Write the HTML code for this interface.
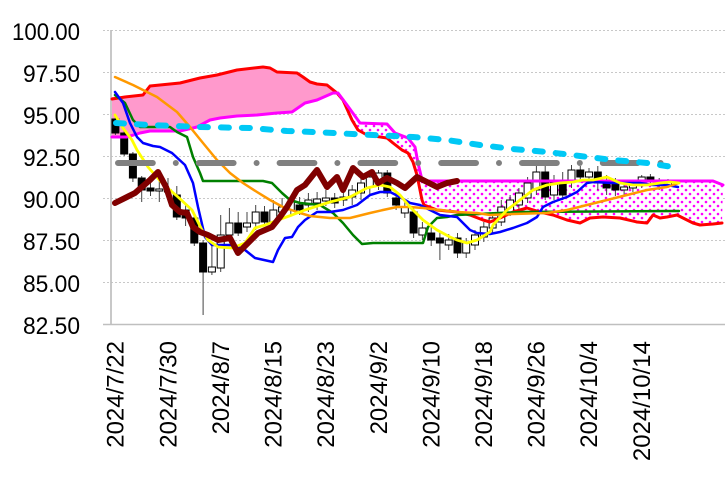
<!DOCTYPE html>
<html><head><meta charset="utf-8"><style>
html,body{margin:0;padding:0;background:#fff;}
svg{display:block;}
text{font-family:"Liberation Sans",Arial,sans-serif;fill:#000;}
</style></head><body>
<svg width="727" height="477" viewBox="0 0 727 477" xmlns="http://www.w3.org/2000/svg">
<defs>
<pattern id="dots" x="0" y="0" width="8" height="8" patternUnits="userSpaceOnUse">
<rect width="8" height="8" fill="#fff"/>
<circle cx="2" cy="2" r="1.3" fill="#FF00FF"/>
<circle cx="6" cy="6" r="1.3" fill="#FF00FF"/>
</pattern>
</defs>
<rect width="727" height="477" fill="#fff"/>
<g stroke="#C8C8C8" stroke-width="1" stroke-dasharray="2 2">
<line x1="103" y1="30.5" x2="725" y2="30.5"/>
<line x1="103" y1="72.5" x2="725" y2="72.5"/>
<line x1="103" y1="114.5" x2="725" y2="114.5"/>
<line x1="103" y1="156.5" x2="725" y2="156.5"/>
<line x1="103" y1="198.5" x2="725" y2="198.5"/>
<line x1="103" y1="240.5" x2="725" y2="240.5"/>
<line x1="103" y1="282.5" x2="725" y2="282.5"/>
</g>
<line x1="111" y1="30" x2="111" y2="325" stroke="#BFBFBF" stroke-width="1.7"/>
<line x1="103" y1="324.5" x2="725" y2="324.5" stroke="#BFBFBF" stroke-width="1.5"/>
<g font-size="24" text-anchor="end">
<text x="80" y="40" textLength="68" lengthAdjust="spacingAndGlyphs">100.00</text>
<text x="80" y="82" textLength="57" lengthAdjust="spacingAndGlyphs">97.50</text>
<text x="80" y="124" textLength="57" lengthAdjust="spacingAndGlyphs">95.00</text>
<text x="80" y="166" textLength="57" lengthAdjust="spacingAndGlyphs">92.50</text>
<text x="80" y="208" textLength="57" lengthAdjust="spacingAndGlyphs">90.00</text>
<text x="80" y="250" textLength="57" lengthAdjust="spacingAndGlyphs">87.50</text>
<text x="80" y="292" textLength="57" lengthAdjust="spacingAndGlyphs">85.00</text>
<text x="80" y="334" textLength="57" lengthAdjust="spacingAndGlyphs">82.50</text>
</g>
<g font-size="24" text-anchor="end">
<text transform="translate(123.5,341) rotate(-90)">2024/7/22</text>
<text transform="translate(176.3,341) rotate(-90)">2024/7/30</text>
<text transform="translate(228.9,341) rotate(-90)">2024/8/7</text>
<text transform="translate(281.5,341) rotate(-90)">2024/8/15</text>
<text transform="translate(334.1,341) rotate(-90)">2024/8/23</text>
<text transform="translate(386.8,341) rotate(-90)">2024/9/2</text>
<text transform="translate(439.4,341) rotate(-90)">2024/9/10</text>
<text transform="translate(492.0,341) rotate(-90)">2024/9/18</text>
<text transform="translate(544.6,341) rotate(-90)">2024/9/26</text>
<text transform="translate(597.2,341) rotate(-90)">2024/10/4</text>
<text transform="translate(649.9,341) rotate(-90)">2024/10/14</text>
</g>
<polygon fill="#FF99CC" points="112,97 125,96 143,94 150,86 160,85 180,83 200,78 217,75 237,70 263,67 270,68 277,72 297,73 303,77 310,82 317,84 327,85 338,93 333,93 317,100 305,103 292,112 277,113 257,115 237,116 220,118 210,120 197,127 180,131 150,131 140,133 127,137 112,137"/>
<polygon fill="url(#dots)" points="338,93 347,105 360,123 387,124 395,133 408,138 415,147 418,163 422,180 423,181 713,181 723,185 722,223 713,224 700,225 693,223 683,218 677,215 667,217 660,218 653,215 647,223 637,222 620,218 603,217 590,218 580,223 567,220 553,215 540,212 527,208 513,212 500,218 490,222 483,220 470,215 457,212 437,210 424,205 422,200 420,190 417,175 413,162 408,153 402,150 393,143 387,138 367,135 358,130 352,120 343,100"/>
<g stroke="#444" stroke-width="1">
<line x1="115.4" y1="116" x2="115.4" y2="135"/>
<line x1="124.2" y1="131" x2="124.2" y2="156"/>
<line x1="132.9" y1="152" x2="132.9" y2="182"/>
<line x1="141.7" y1="176" x2="141.7" y2="202"/>
<line x1="150.5" y1="183" x2="150.5" y2="196"/>
<line x1="159.3" y1="180" x2="159.3" y2="202"/>
<line x1="168.0" y1="178" x2="168.0" y2="199"/>
<line x1="176.8" y1="186" x2="176.8" y2="220"/>
<line x1="185.6" y1="205" x2="185.6" y2="226"/>
<line x1="194.3" y1="215" x2="194.3" y2="246"/>
<line x1="203.1" y1="240" x2="203.1" y2="315"/>
<line x1="211.9" y1="245" x2="211.9" y2="275"/>
<line x1="220.7" y1="215" x2="220.7" y2="272"/>
<line x1="229.4" y1="208" x2="229.4" y2="240"/>
<line x1="238.2" y1="212" x2="238.2" y2="236"/>
<line x1="247.0" y1="212" x2="247.0" y2="232"/>
<line x1="255.7" y1="205" x2="255.7" y2="230"/>
<line x1="264.5" y1="206" x2="264.5" y2="226"/>
<line x1="273.3" y1="200" x2="273.3" y2="228"/>
<line x1="282.1" y1="198" x2="282.1" y2="218"/>
<line x1="290.8" y1="196" x2="290.8" y2="215"/>
<line x1="299.6" y1="197" x2="299.6" y2="215"/>
<line x1="308.4" y1="193" x2="308.4" y2="212"/>
<line x1="317.1" y1="192" x2="317.1" y2="210"/>
<line x1="325.9" y1="190" x2="325.9" y2="206"/>
<line x1="334.7" y1="193" x2="334.7" y2="208"/>
<line x1="343.4" y1="190" x2="343.4" y2="206"/>
<line x1="352.2" y1="185" x2="352.2" y2="205"/>
<line x1="361.0" y1="176" x2="361.0" y2="200"/>
<line x1="369.8" y1="172" x2="369.8" y2="195"/>
<line x1="378.5" y1="170" x2="378.5" y2="190"/>
<line x1="387.3" y1="170" x2="387.3" y2="197"/>
<line x1="396.1" y1="192" x2="396.1" y2="210"/>
<line x1="404.8" y1="202" x2="404.8" y2="218"/>
<line x1="413.6" y1="207" x2="413.6" y2="238"/>
<line x1="422.4" y1="222" x2="422.4" y2="240"/>
<line x1="431.2" y1="226" x2="431.2" y2="246"/>
<line x1="439.9" y1="232" x2="439.9" y2="260"/>
<line x1="448.7" y1="234" x2="448.7" y2="250"/>
<line x1="457.5" y1="233" x2="457.5" y2="258"/>
<line x1="466.2" y1="238" x2="466.2" y2="258"/>
<line x1="475.0" y1="230" x2="475.0" y2="250"/>
<line x1="483.8" y1="222" x2="483.8" y2="242"/>
<line x1="492.6" y1="212" x2="492.6" y2="233"/>
<line x1="501.3" y1="200" x2="501.3" y2="226"/>
<line x1="510.1" y1="195" x2="510.1" y2="216"/>
<line x1="518.9" y1="188" x2="518.9" y2="210"/>
<line x1="527.6" y1="177" x2="527.6" y2="203"/>
<line x1="536.4" y1="165" x2="536.4" y2="195"/>
<line x1="545.2" y1="160" x2="545.2" y2="200"/>
<line x1="554.0" y1="175" x2="554.0" y2="200"/>
<line x1="562.7" y1="172" x2="562.7" y2="200"/>
<line x1="571.5" y1="165" x2="571.5" y2="188"/>
<line x1="580.3" y1="166" x2="580.3" y2="182"/>
<line x1="589.0" y1="168" x2="589.0" y2="182"/>
<line x1="597.8" y1="166" x2="597.8" y2="190"/>
<line x1="606.6" y1="175" x2="606.6" y2="195"/>
<line x1="615.4" y1="178" x2="615.4" y2="196"/>
<line x1="624.1" y1="182" x2="624.1" y2="195"/>
<line x1="632.9" y1="180" x2="632.9" y2="192"/>
<line x1="641.7" y1="175" x2="641.7" y2="188"/>
<line x1="650.4" y1="174" x2="650.4" y2="186"/>
<line x1="659.2" y1="178" x2="659.2" y2="190"/>
<line x1="668.0" y1="179" x2="668.0" y2="188"/>
</g>
<g stroke="#000" stroke-width="1">
<rect x="111.9" y="119" width="7" height="14" fill="#000"/>
<rect x="120.7" y="133" width="7" height="21" fill="#000"/>
<rect x="129.4" y="154" width="7" height="24" fill="#000"/>
<rect x="138.2" y="178" width="7" height="12" fill="#000"/>
<rect x="147.0" y="188" width="7" height="3" fill="#000"/>
<rect x="155.8" y="189" width="7" height="2" fill="#fff"/>
<rect x="164.5" y="190" width="7" height="2" fill="#000"/>
<rect x="173.3" y="195" width="7" height="22" fill="#000"/>
<rect x="182.1" y="210" width="7" height="8" fill="#000"/>
<rect x="190.8" y="218" width="7" height="25" fill="#000"/>
<rect x="199.6" y="243" width="7" height="29" fill="#000"/>
<rect x="208.4" y="267" width="7" height="5" fill="#fff"/>
<rect x="217.2" y="235" width="7" height="33" fill="#fff"/>
<rect x="225.9" y="223" width="7" height="12" fill="#fff"/>
<rect x="234.7" y="223" width="7" height="10" fill="#000"/>
<rect x="243.5" y="223" width="7" height="4" fill="#fff"/>
<rect x="252.2" y="212" width="7" height="11" fill="#fff"/>
<rect x="261.0" y="212" width="7" height="10" fill="#000"/>
<rect x="269.8" y="210" width="7" height="12" fill="#fff"/>
<rect x="278.6" y="207" width="7" height="5" fill="#fff"/>
<rect x="287.3" y="202" width="7" height="8" fill="#fff"/>
<rect x="296.1" y="205" width="7" height="5" fill="#000"/>
<rect x="304.9" y="200" width="7" height="5" fill="#fff"/>
<rect x="313.6" y="199" width="7" height="4" fill="#fff"/>
<rect x="322.4" y="198" width="7" height="3" fill="#fff"/>
<rect x="331.2" y="198" width="7" height="5" fill="#000"/>
<rect x="339.9" y="197" width="7" height="3" fill="#fff"/>
<rect x="348.7" y="190" width="7" height="7" fill="#fff"/>
<rect x="357.5" y="183" width="7" height="10" fill="#fff"/>
<rect x="366.3" y="177" width="7" height="10" fill="#fff"/>
<rect x="375.0" y="173" width="7" height="10" fill="#fff"/>
<rect x="383.8" y="173" width="7" height="20" fill="#000"/>
<rect x="392.6" y="198" width="7" height="7" fill="#000"/>
<rect x="401.3" y="207" width="7" height="6" fill="#fff"/>
<rect x="410.1" y="212" width="7" height="21" fill="#000"/>
<rect x="418.9" y="228" width="7" height="7" fill="#fff"/>
<rect x="427.7" y="233" width="7" height="7" fill="#000"/>
<rect x="436.4" y="238" width="7" height="5" fill="#000"/>
<rect x="445.2" y="240" width="7" height="5" fill="#fff"/>
<rect x="454.0" y="238" width="7" height="15" fill="#000"/>
<rect x="462.7" y="243" width="7" height="10" fill="#fff"/>
<rect x="471.5" y="235" width="7" height="10" fill="#fff"/>
<rect x="480.3" y="227" width="7" height="10" fill="#fff"/>
<rect x="489.1" y="218" width="7" height="10" fill="#fff"/>
<rect x="497.8" y="207" width="7" height="15" fill="#fff"/>
<rect x="506.6" y="200" width="7" height="12" fill="#fff"/>
<rect x="515.4" y="193" width="7" height="12" fill="#fff"/>
<rect x="524.1" y="183" width="7" height="15" fill="#fff"/>
<rect x="532.9" y="172" width="7" height="18" fill="#fff"/>
<rect x="541.7" y="172" width="7" height="25" fill="#000"/>
<rect x="550.5" y="183" width="7" height="12" fill="#fff"/>
<rect x="559.2" y="182" width="7" height="13" fill="#000"/>
<rect x="568.0" y="170" width="7" height="12" fill="#fff"/>
<rect x="576.8" y="170" width="7" height="7" fill="#000"/>
<rect x="585.5" y="172" width="7" height="5" fill="#fff"/>
<rect x="594.3" y="172" width="7" height="11" fill="#000"/>
<rect x="603.1" y="180" width="7" height="8" fill="#000"/>
<rect x="611.9" y="183" width="7" height="7" fill="#000"/>
<rect x="620.6" y="187" width="7" height="3" fill="#fff"/>
<rect x="629.4" y="185" width="7" height="3" fill="#fff"/>
<rect x="638.2" y="177" width="7" height="5" fill="#fff"/>
<rect x="646.9" y="177" width="7" height="5" fill="#000"/>
<rect x="655.7" y="182" width="7" height="3" fill="#000"/>
<rect x="664.5" y="182" width="7" height="3" fill="#fff"/>
</g>
<g fill="none" stroke-linejoin="round" stroke-linecap="round">
<polyline stroke="#FF0000" stroke-width="3" points="112,99 125,97 143,95 150,86 160,85 180,83 200,78 217,75 237,70 263,67 270,68 277,72 297,73 303,77 310,82 317,84 327,85 337,93 343,100 352,120 358,130 367,135 387,138 393,143 402,150 408,153 413,162 417,175 420,190 422,200 424,205 437,210 457,212 470,215 483,220 490,222 500,218 513,212 527,208 540,212 553,215 567,220 580,223 590,218 603,217 620,218 637,222 647,223 653,215 660,218 667,217 677,215 683,218 693,223 700,225 713,224 722,223"/>
<polyline stroke="#FF00FF" stroke-width="3" points="112,137 127,137 140,133 150,131 180,131 197,127 210,120 220,118 237,116 257,115 277,113 292,112 305,103 317,100 333,93 338,93 347,105 360,123 387,124 395,133 408,138 415,147 418,163 422,180 424,181 713,181 723,185"/>
<polyline stroke="#008000" stroke-width="2.5" points="115,95 125,103 133,120 140,127 170,127 177,132 187,137 193,157 200,173 203,181 263,181 272,183 282,193 290,200 300,203 320,205 333,213 343,223 353,235 362,244 373,243 423,243 428,227 437,218 447,217 457,215 520,212 679,211"/>
<polyline stroke="#0000FF" stroke-width="2.5" points="115,92 123,103 130,123 137,137 143,143 153,146 160,147 172,153 185,165 193,183 198,207 205,237 212,245 232,245 245,250 255,258 273,262 278,250 285,238 292,237 298,227 305,220 317,212 330,212 343,210 357,205 370,195 380,192 390,192 400,197 410,203 420,205 430,210 440,215 457,217 463,223 470,230 477,233 490,234 500,232 513,228 527,223 537,217 543,207 553,202 567,197 577,192 587,183 593,182 613,183 640,183 653,185 667,185 678,187"/>
<polyline stroke="#FF9900" stroke-width="2.5" points="115,77 133,85 157,97 177,112 190,127 203,143 217,160 230,173 243,183 257,192 270,200 283,207 297,212 310,216 330,218 350,218 370,213 383,210 397,207 410,207 423,208 440,210 457,212 477,213 490,215 513,214 547,213 567,210 587,205 607,200 627,195 647,190 667,187 679,183"/>
<polyline stroke="#FFFF00" stroke-width="2.8" points="115,115 123,128 132,140 137,150 148,167 162,183 178,197 192,210 202,230 208,240 218,247 232,248 245,243 255,228 265,225 278,220 292,215 305,210 330,202 350,197 367,188 380,185 390,187 400,195 410,207 423,220 437,230 450,237 457,240 467,243 477,240 490,232 493,225 507,210 520,200 533,190 547,185 560,183 573,182 583,180 593,180 607,177 620,183 633,185 647,185 660,183 670,182 679,183"/>
<polyline stroke="#800000" stroke-width="6" points="115,203 135,193 150,180 158,172 166,187 172,205 180,212 187,213 193,227 200,232 208,235 218,240 230,238 238,253 248,243 258,233 272,227 280,217 287,207 297,190 305,185 317,170 327,187 337,177 343,190 353,168 363,177 372,172 378,183 387,178 397,183 405,188 417,177 427,182 437,187 447,183 457,181"/>
<line x1="118" y1="163" x2="662" y2="163" stroke="#808080" stroke-width="6" stroke-dasharray="34.8 23 0 23"/>
<polyline stroke="#00C8F5" stroke-width="6" stroke-dasharray="8 13" points="116,123 150,125 200,127 250,128 287,131 313,132 373,135 413,137 447,140 480,145 513,149 547,152 580,156 613,160 647,163 679,168"/>
</g>
</svg>
</body></html>
